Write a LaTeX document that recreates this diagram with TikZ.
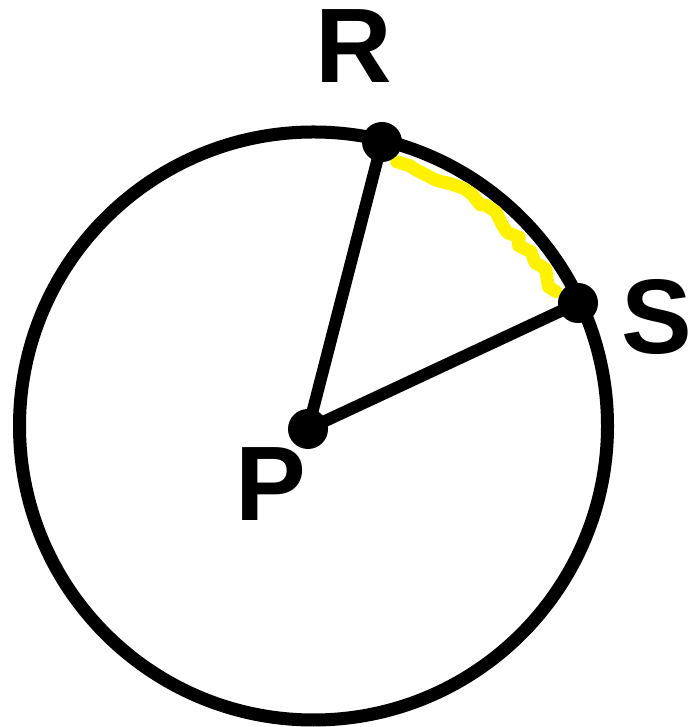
\documentclass[tikz,border=0pt]{standalone}
\usepackage{fontspec}
\setmainfont{Liberation Sans}
\usetikzlibrary{decorations.pathmorphing}
\begin{document}
\begin{tikzpicture}[x=1pt,y=1pt,
  dot/.style={circle,fill=black,inner sep=0pt,minimum size=40pt},
  lbl/.style={inner sep=0pt,font=\fontsize{106}{106}\selectfont\bfseries},
  edge/.style={line width=12pt}]
\useasboundingbox (0,0) rectangle (692,727);
\coordinate (C) at (313.5,301);
\draw[line width=13pt] (C) circle (294);
\pgfmathsetseed{11}
\draw[yellow,line width=13pt,line cap=round,line join=round,
  decoration={random steps,segment length=10pt,amplitude=5pt},decorate]
  ([shift={(72.5:277)}]C) arc (72.5:29:277);
\node[dot] (P) at (308,298) {};
\node[dot] (R) at (382,585) {};
\node[dot] (S) at (578,424) {};
\draw[edge] (P.center) -- (R.center);
\draw[edge] (P.center) -- (S.center);
\node[lbl] (lR) at (354,681) {R};
\node[lbl] (lP) at (271,243) {P};
\node[lbl] (lS) at (657,410) {S};
\end{tikzpicture}
\end{document}
